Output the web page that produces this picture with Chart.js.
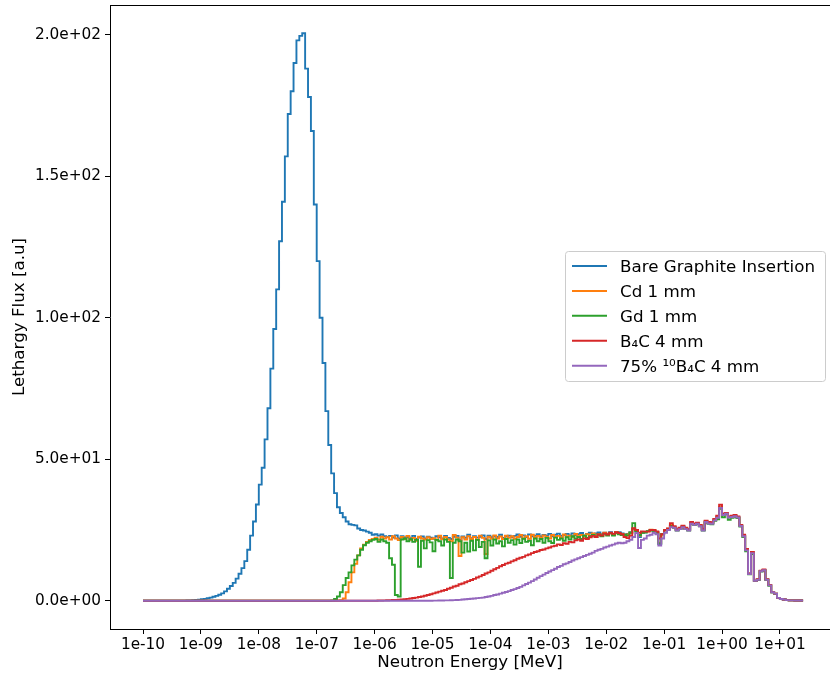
<!DOCTYPE html>
<html><head><meta charset="utf-8">
<script src="https://cdn.jsdelivr.net/npm/chart.js@4/dist/chart.umd.min.js"></script>
<style>html,body{margin:0;padding:0;background:#fff;overflow:hidden}canvas{display:block}</style>
</head><body>
<canvas id="c" width="830" height="679"></canvas>
<script>
// ---- categories: energy bin edges (log-uniform, 20 bins per decade from 1e-10 MeV) ----
const BINS_PER_DECADE = 20;
const LOG_E_START = -10;
const N_BINS = 228;
const energyEdges = [];
for (let i = 0; i <= N_BINS; i++) energyEdges.push(Math.pow(10, LOG_E_START + i / BINS_PER_DECADE));

const seriesLabels = ["Bare Graphite Insertion", "Cd 1 mm", "Gd 1 mm", "B\u2084C 4 mm", "75% \u00B9\u2070B\u2084C 4 mm"];
const seriesColors = ["#1f77b4", "#ff7f0e", "#2ca02c", "#d62728", "#9467bd"];

const xTickValues = [1e-10,1e-9,1e-8,1e-7,1e-6,1e-5,1e-4,1e-3,1e-2,1e-1,1e0,1e1];
const xTickLabels = ["1e-10","1e-09","1e-08","1e-07","1e-06","1e-05","1e-04","1e-03","1e-02","1e-01","1e+00","1e+01"];
const yTickValues = [0,50,100,150,200];
const yTickLabels = ["0.0e+00","5.0e+01","1.0e+02","1.5e+02","2.0e+02"];

// ---- series values (lethargy flux per bin) ----
const bareFlux = [
0,0,0,0,0,0,0,0,0,0,
0,0,0,0,0,0,0.05,0.1,0.15,0.25,
0.35,0.5,0.65,0.85,1.1,1.4,1.7,2.1,2.6,3.3,
4.2,5.2,6.3,7.8,9.5,11.5,14,18,23,28,
34,41,47,57,68,82,96,110,127,141,
157,172,180,190,198,199.6,200.5,188,178,166,
140,120,100,84,67,55,45,38,33,31,
29.5,28,27,26.8,26.6,25.5,25,24.8,24.4,24,
23.3,23.5,23.0,23.4,22.8,22.5,22.9,22.3,23.1,22.0,
22.8,22.3,22.5,22.1,22.9,21.8,22.3,22.7,22.0,22.6,
22.3,21.9,22.8,22.4,22.0,22.9,22.2,21.8,22.6,22.9,
21.5,22.7,22.2,23.3,22.1,22.8,22.3,22.6,23.1,21.8,
23.0,22.4,22.8,22.5,23.3,22.2,22.7,23.0,22.4,22.9,
23.4,22.6,23.1,22.5,23.4,22.8,23.0,23.5,22.7,23.2,
23.0,23.6,22.8,23.3,23.7,22.9,23.2,23.6,23.1,23.8,
23.2,23.5,23.9,23.1,23.6,24.0,23.3,23.8,24.1,23.4,
24.0,23.6,24.2,23.5,24.0,24.2,23.8,23.3,23.6,24.2,
25.3,24.8,22.5,24.0,24.2,24.6,25.0,24.8,24.2,20.0,
23.6,25.0,25.3,26.5,26,25,25.5,26.2,25.5,25,
27.4,27,27.4,26.5,25,28,27.5,27.4,28.6,29.5,
33,30.5,30.9,29.5,29.7,30,29.5,26.5,23,18,
9.5,17,7,7.5,10.5,10.9,7.5,5.5,3,2.5,
1,0.6,0.4,0.2,0.1,0.1,0.05,0.05];

const cdFlux = [
0,0,0,0,0,0,0,0,0,0,
0,0,0,0,0,0,0,0,0,0,
0,0,0,0,0,0,0,0,0,0,
0,0,0,0,0,0,0,0,0,0,
0,0,0,0,0,0,0,0,0,0,
0,0,0,0,0,0,0,0,0,0,
0,0,0,0,0,0,0,0,0.05,0.2,
0.8,3,6.5,10,13,16,18.5,19.8,20.8,21.5,
21.8,22.3,21.5,22.6,22.0,22.4,21.6,22.8,22.0,21.4,
22.5,21.8,22.9,21.5,22.2,21.2,22.6,22.0,21.6,22.4,
21.8,22.1,21.4,23.0,21.7,22.5,21.6,21.0,23.2,22.3,
15.8,22.4,21.6,22.8,21.8,22.5,21.5,23.0,22.2,16.5,
22.6,21.9,23.1,22.0,22.7,21.8,23.0,22.2,22.8,21.9,
22.5,23.2,22.0,22.8,21.9,23.3,22.4,22.9,22.2,23.1,
22.6,22.0,23.2,22.5,22.9,22.3,23.4,22.6,23.0,22.5,
23.6,22.8,23.2,22.7,23.5,22.9,23.8,23.1,23.5,23.0,
24.0,23.4,23.8,23.2,24.2,23.6,23.6,23.0,23.4,24.0,
25.4,25.0,23.0,24.2,24.3,24.5,25.1,24.9,24.3,20.5,
23.4,25.0,25.4,26.8,26,25,25.5,26.2,25.5,25,
27.4,27,27.4,26.5,25,28,27.5,27.4,28.6,29.5,
33,30.5,30.9,29.5,29.7,30,29.5,26.5,23,18,
9.5,17,7,7.5,10.5,10.9,7.5,5.5,3,2.5,
1,0.6,0.4,0.2,0.1,0.1,0.05,0.05];

const gdFlux = [
0,0,0,0,0,0,0,0,0,0,
0,0,0,0,0,0,0,0,0,0,
0,0,0,0,0,0,0,0,0,0,
0,0,0,0,0,0,0,0,0,0,
0,0,0,0,0,0,0,0,0,0,
0,0,0,0,0,0,0,0,0,0,
0,0,0,0,0,0,0.1,0.6,1.5,3,
5.5,8,10,12.5,14.5,16,18,19.6,20.5,21.0,
21.5,21.8,20.8,21.6,21.0,20.5,15.0,12.7,2.0,1.5,
21.6,22.0,21.0,21.7,20.8,21.5,12.0,21.2,18.5,21.4,
20.6,17.5,21.5,21.0,19.5,21.6,20.8,8.0,20.5,21.6,
21.0,17.0,20.5,17.4,21.2,17.8,21.5,19.0,20.8,15.0,
21.3,19.5,21.6,20.2,21.0,19.2,21.8,20.5,21.4,19.8,
21.6,20.4,21.9,20.8,21.2,19.6,22.0,21.0,21.8,20.5,
22.2,21.0,20.4,22.3,21.5,22.0,21.2,22.4,21.6,22.8,
21.9,22.5,21.8,23.0,22.2,22.8,23.2,22.5,23.4,22.8,
23.6,23.0,23.8,23.0,24.0,23.5,23.2,23.3,23.0,24.0,
27.4,24.6,23.2,24.0,24.1,24.6,24.9,24.6,24.0,20.2,
23.5,24.8,25.2,26.4,25.8,24.8,25.3,26.0,25.3,24.8,
27.0,26.8,27.0,26.3,24.8,27.6,27.2,27.0,28.2,28.8,
32.5,29.5,30.5,28.6,29.3,29.7,29.2,26.2,22.5,17.5,
9.3,16.5,7,7.3,10.3,10.7,7.3,5.3,3,2.4,
1,0.6,0.4,0.2,0.1,0.1,0.05,0.05];

const b4cFlux = [
0,0,0,0,0,0,0,0,0,0,
0,0,0,0,0,0,0,0,0,0,
0,0,0,0,0,0,0,0,0,0,
0,0,0,0,0,0,0,0,0,0,
0,0,0,0,0,0,0,0,0,0,
0,0,0,0,0,0,0,0,0,0,
0,0,0,0,0,0,0,0,0,0,
0,0,0,0,0,0,0,0,0,0,
0,0,0.05,0.08,0.1,0.15,0.2,0.25,0.3,0.35,
0.45,0.55,0.65,0.8,0.95,1.1,1.3,1.5,1.75,2.0,
2.3,2.6,2.9,3.2,3.5,3.8,4.2,4.6,5.0,5.3,
5.8,6.1,6.5,6.9,7.3,7.7,8.2,8.6,9.1,9.6,
10.0,10.6,11.1,11.6,12.2,12.6,13.1,13.4,13.9,14.3,
14.8,15.2,15.5,16.0,16.3,16.8,17.2,17.5,17.9,18.1,
18.5,18.8,19.2,19.4,19.9,19.7,20.3,20.1,20.8,20.6,
21.3,21.6,21.2,22.0,21.8,22.4,22.9,22.5,23.4,23.0,
23.8,23.4,24.0,23.6,24.2,23.9,23.5,22.5,22.1,23.0,
25.6,25.0,24.0,24.5,24.4,24.4,25.0,25.0,24.5,22.0,
23.5,25.0,25.5,27.4,26.3,25.3,25.8,26.5,25.8,25.3,
27.8,27.3,27.6,26.8,25.4,28.3,27.8,27.7,28.9,30.0,
33.9,30.8,31.0,29.8,30.0,30.3,29.8,26.8,23.3,18.3,
9.6,17.2,7.1,7.6,10.6,11.0,7.6,5.6,3.1,2.5,
1,0.6,0.4,0.2,0.1,0.1,0.05,0.05];

const b10cFlux = [
0,0,0,0,0,0,0,0,0,0,
0,0,0,0,0,0,0,0,0,0,
0,0,0,0,0,0,0,0,0,0,
0,0,0,0,0,0,0,0,0,0,
0,0,0,0,0,0,0,0,0,0,
0,0,0,0,0,0,0,0,0,0,
0,0,0,0,0,0,0,0,0,0,
0,0,0,0,0,0,0,0,0,0,
0,0,0,0,0,0,0,0,0,0,
0,0,0,0,0,0,0,0,0,0,
0,0.02,0.03,0.05,0.07,0.1,0.13,0.17,0.21,0.25,
0.3,0.4,0.5,0.6,0.7,0.8,0.9,1.0,1.1,1.3,
1.5,1.7,2.0,2.2,2.5,2.8,3.1,3.4,3.8,4.1,
4.5,4.9,5.4,5.9,6.4,6.9,7.5,8.1,8.7,9.2,
9.8,10.3,10.8,11.3,11.9,12.3,12.9,13.2,13.7,14.2,
14.6,15.0,15.4,15.8,16.2,16.6,17.0,17.6,18.0,18.3,
18.8,19.1,19.5,19.8,20.2,20.5,20.3,20.5,21.0,21.5,
22.5,23.9,18.6,21.5,22.0,23.0,23.3,24.0,23.5,19.5,
22.0,24.0,25.0,26.0,25.8,24.8,25.3,26.0,25.3,24.8,
27.2,26.8,27.2,26.3,24.8,27.8,27.3,27.2,28.4,29.3,
32.8,30.3,30.7,29.4,29.6,29.9,29.4,26.4,22.8,17.8,
9.4,16.8,7,7.4,10.4,10.8,7.4,5.4,3,2.5,
1,0.6,0.4,0.2,0.1,0.1,0.05,0.05];

const seriesValues = [bareFlux, cdFlux, gdFlux, b4cFlux, b10cFlux];
seriesValues.forEach((s, k) => { if (s.length !== N_BINS) throw new Error("series " + k + " length " + s.length); });

function toPoints(vals) {
  const pts = vals.map((v, i) => ({x: energyEdges[i], y: v}));
  pts.push({x: energyEdges[vals.length], y: vals[vals.length - 1]});
  return pts;
}

const FONT = "'DejaVu Sans', sans-serif";
Chart.defaults.font.family = FONT;
Chart.defaults.color = '#000';

const datasets = seriesValues.map((vals, k) => ({
  label: seriesLabels[k],
  data: toPoints(vals),
  borderColor: seriesColors[k],
  backgroundColor: seriesColors[k],
  borderWidth: 1.9,
  pointRadius: 0,
  stepped: 'after',
  fill: false,
  order: seriesValues.length - 1 - k
}));

const frameAndLegend = {
  id: 'frameAndLegend',
  afterDraw(chart) {
    const ctx = chart.ctx, a = chart.chartArea;
    ctx.save();
    ctx.strokeStyle = '#000'; ctx.lineWidth = 1;
    ctx.beginPath(); ctx.moveTo(a.left, a.top + 0.5); ctx.lineTo(a.right, a.top + 0.5); ctx.stroke();
    // legend box
    const bx = 565.5, by = 251.5, bw = 260, bh = 130, r = 3;
    ctx.beginPath();
    ctx.moveTo(bx + r, by); ctx.lineTo(bx + bw - r, by); ctx.arcTo(bx + bw, by, bx + bw, by + r, r);
    ctx.lineTo(bx + bw, by + bh - r); ctx.arcTo(bx + bw, by + bh, bx + bw - r, by + bh, r);
    ctx.lineTo(bx + r, by + bh); ctx.arcTo(bx, by + bh, bx, by + bh - r, r);
    ctx.lineTo(bx, by + r); ctx.arcTo(bx, by, bx + r, by, r);
    ctx.closePath();
    ctx.fillStyle = 'rgba(255,255,255,0.8)'; ctx.fill();
    ctx.strokeStyle = '#cccccc'; ctx.stroke();
    ctx.font = "16.7px " + FONT;
    ctx.textBaseline = 'alphabetic';
    ctx.textAlign = 'left';
    for (let k = 0; k < seriesLabels.length; k++) {
      const yy = 266 + k * 24.93;
      ctx.strokeStyle = seriesColors[k]; ctx.lineWidth = 2;
      ctx.beginPath(); ctx.moveTo(572, yy); ctx.lineTo(607, yy); ctx.stroke();
      ctx.fillStyle = '#000';
      ctx.fillText(seriesLabels[k], 620, yy + 6.2);
    }
    ctx.restore();
  }
};

new Chart(document.getElementById('c'), {
  type: 'line',
  data: { datasets },
  options: {
    responsive: false,
    animation: false,
    devicePixelRatio: 1,
    layout: { padding: { top: 5, right: 0, left: 0, bottom: 0 } },
    plugins: { legend: { display: false }, tooltip: { enabled: false } },
    elements: { line: { tension: 0 } },
    scales: {
      x: {
        type: 'logarithmic',
        min: Math.pow(10, -10.570),
        max: Math.pow(10, 1.865),
        afterFit(s) { s.height = 50; s.paddingLeft = 0; s.paddingRight = 0; },
        afterBuildTicks(s) { s.ticks = xTickValues.map(v => ({ value: v, major: true })); },
        ticks: {
          autoSkip: false, maxRotation: 0, padding: 2,
          font: { size: 15.3 },
          callback(v, i) { return xTickLabels[i]; }
        },
        grid: { drawOnChartArea: false, drawTicks: true, tickLength: 5, tickColor: '#000', tickWidth: 1 },
        border: { display: true, color: '#000', width: 1 },
        title: { display: true, text: 'Neutron Energy [MeV]', font: { size: 16.7 }, padding: { top: 0, bottom: 6 } }
      },
      y: {
        type: 'linear',
        min: -10, max: 210.5,
        afterFit(s) { s.width = 110; s.paddingTop = 0; s.paddingBottom = 0; },
        afterBuildTicks(s) { s.ticks = yTickValues.map(v => ({ value: v })); },
        ticks: {
          autoSkip: false, padding: 4,
          font: { size: 15.3 },
          callback(v, i) { return yTickLabels[i]; }
        },
        grid: { drawOnChartArea: false, drawTicks: true, tickLength: 5, tickColor: '#000', tickWidth: 1 },
        border: { display: true, color: '#000', width: 1 },
        title: { display: true, text: 'Lethargy Flux [a.u]', font: { size: 16.7 }, padding: { top: 10, bottom: 0 } }
      }
    }
  },
  plugins: [frameAndLegend]
});
</script>
</body></html>
